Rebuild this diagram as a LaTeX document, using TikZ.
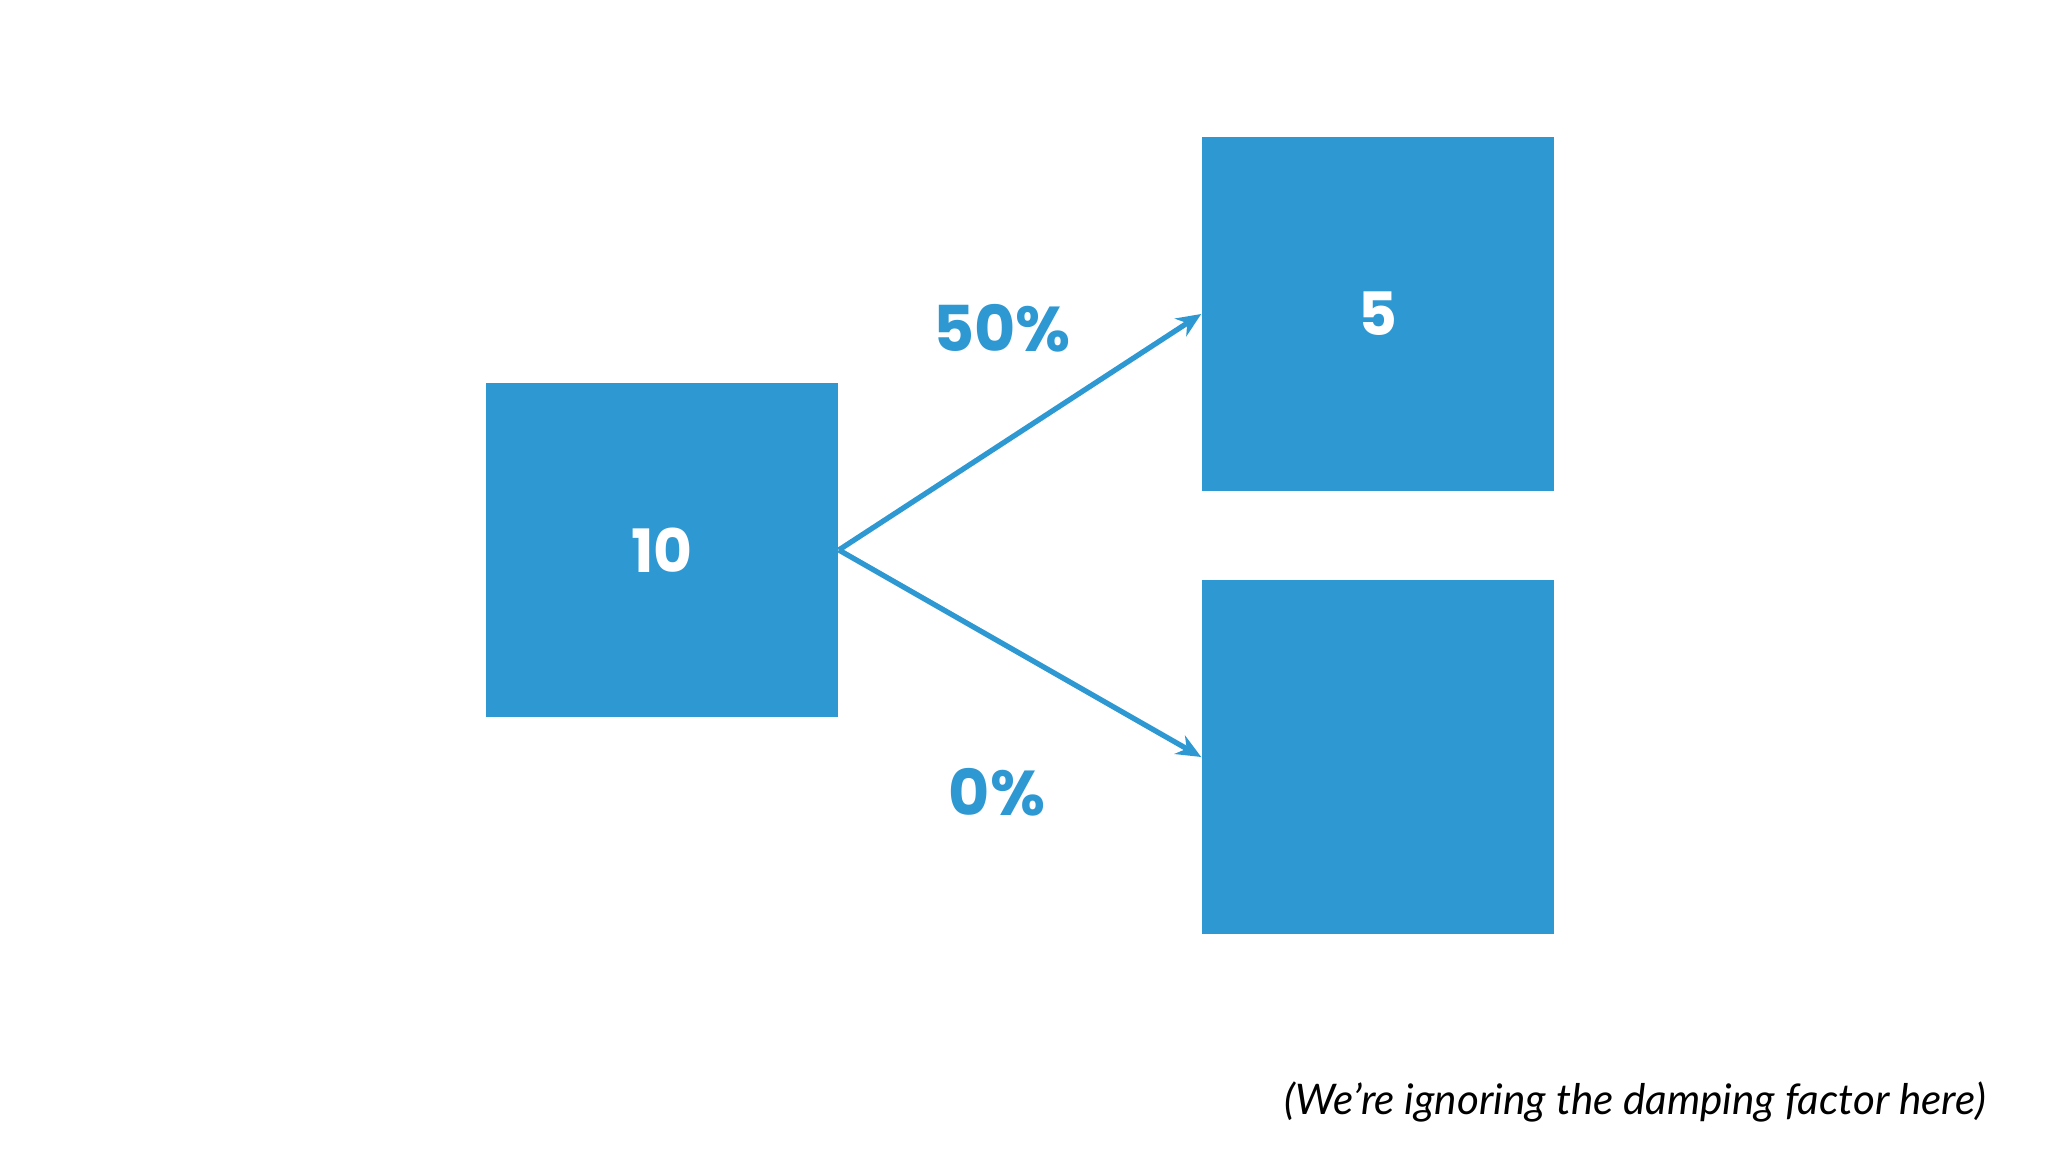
\documentclass[tikz,border=0pt]{standalone}
\usepackage{fontspec}
\setmainfont{Lato}
\newfontfamily\numfont{Poppins}
\usetikzlibrary{arrows.meta,positioning}
\definecolor{rankblue}{RGB}{46,152,210}

\tikzset{
  page/.style={x=0.01cm,y=-0.01cm},
  pagebox/.style={fill=rankblue,draw=none,minimum width=3.52cm,minimum height=3.53cm,inner sep=0pt,
                  text=white,font=\numfont\bfseries\fontsize{17}{20}\selectfont},
  share/.style={text=rankblue,font=\numfont\bfseries\fontsize{18}{22}\selectfont},
  link/.style={draw=rankblue,line width=1.5pt,-{Stealth[length=7pt,width=6pt]}}
}

\begin{document}
\begin{tikzpicture}[page]
  \useasboundingbox (0,0) rectangle (2048,1152);
  \node (src) [pagebox,minimum height=3.34cm] at (662,550) {10};
  \node (top) [pagebox] at (1378,314) {5};
  \node (bot) [pagebox] at (1378,757) {};
  \draw[link] (src.east) -- (top.west);
  \draw[link] (src.east) -- (bot.west);
  \node (half) [share] at (1002,328) {50\%};
  \node (none) [share] at (997,792) {0\%};
  \node (note) [anchor=east,font=\itshape\fontsize{12}{15}\selectfont] at (1998,1102) {(We're ignoring the damping factor here)};
\end{tikzpicture}
\end{document}
